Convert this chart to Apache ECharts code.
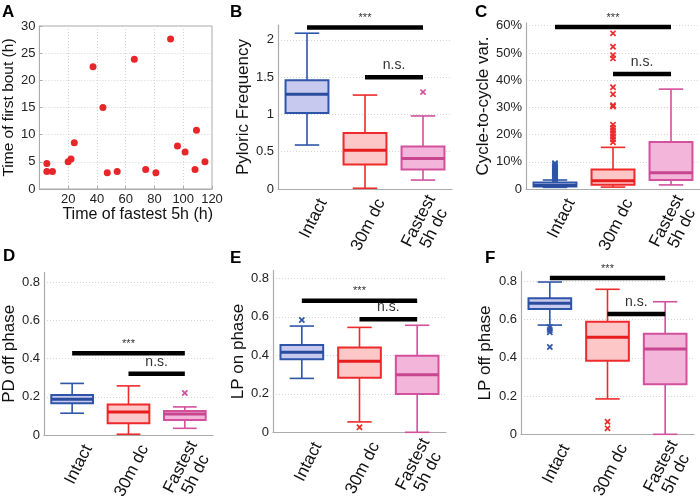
<!DOCTYPE html>
<html><head><meta charset="utf-8">
<script src="https://cdn.jsdelivr.net/npm/echarts@6/dist/echarts.min.js"></script>
<style>html,body{margin:0;padding:0;background:#fff}#c{width:700px;height:502px}</style>
</head><body><div id="c"></div>
<script>
// ---------- DATA ----------
const categories = ['Intact', '30m dc', 'Fastest\n5h dc'];

// Panel A: scatter
const fastestTimes   = [5.2, 5.2, 9.1, 20, 22, 24.3, 37.3, 44.2, 47.2, 54.1, 66, 73.9, 81, 91.2, 96, 101.3, 108.2, 109.2, 115.1];
const firstBoutTimes = [4.7, 3.2, 3.2, 5.0, 5.5, 8.5, 22.5, 15.0, 3.0, 3.2, 23.9, 3.6, 3.0, 27.6, 7.9, 6.8, 3.6, 10.8, 5.0];

// Box stats: [lower whisker, Q1, median, Q3, upper whisker] per category
const pyloricBoxes = [[0.59, 1.02, 1.27, 1.46, 2.09], [0.01, 0.33, 0.52, 0.75, 1.26], [0.12, 0.26, 0.41, 0.57, 0.98]];
const pyloricOutliers = [[2, 1.30]];
const pyloricSig = [[0, 2, 2.165], [1, 2, 1.50]];

const cycleBoxes = [[0.006, 0.0095, 0.013, 0.024, 0.033], [0.007, 0.016, 0.030, 0.072, 0.153], [0.015, 0.033, 0.060, 0.173, 0.367]];
const cycleOutliers = [
  [0, 0.036], [0, 0.039], [0, 0.042], [0, 0.045], [0, 0.048], [0, 0.052], [0, 0.056], [0, 0.060], [0, 0.064],
  [0, 0.068], [0, 0.072], [0, 0.076], [0, 0.080], [0, 0.084], [0, 0.088], [0, 0.092], [0, 0.095],
  [1, 0.172], [1, 0.183], [1, 0.193], [1, 0.203], [1, 0.214], [1, 0.224], [1, 0.236], [1, 0.303], [1, 0.308],
  [1, 0.348], [1, 0.374], [1, 0.480], [1, 0.492], [1, 0.523], [1, 0.572]
];
const cycleSig = [[0, 2, 0.595], [1, 2, 0.423]];

const pdOffBoxes = [[0.114, 0.166, 0.187, 0.21, 0.27], [0.004, 0.061, 0.12, 0.16, 0.257], [0.035, 0.079, 0.11, 0.126, 0.147]];
const pdOffOutliers = [[2, 0.22]];
const pdOffSig = [[0, 2, 0.428], [1, 2, 0.32]];

const lpOnBoxes = [[0.28, 0.379, 0.416, 0.453, 0.552], [0.054, 0.284, 0.369, 0.44, 0.545], [0.0, 0.199, 0.299, 0.398, 0.556]];
const lpOnOutliers = [[0, 0.583], [1, 0.026]];
const lpOnSig = [[0, 2, 0.684], [1, 2, 0.587]];

const lpOffBoxes = [[0.571, 0.655, 0.685, 0.711, 0.796], [0.185, 0.385, 0.507, 0.589, 0.758], [0.0, 0.261, 0.446, 0.526, 0.693]];
const lpOffOutliers = [[0, 0.56], [0, 0.545], [0, 0.533], [0, 0.456], [1, 0.066], [1, 0.031]];
const lpOffSig = [[0, 2, 0.817], [1, 2, 0.629]];

const sigLabels = ['***', 'n.s.'];

// ---------- STYLE ----------
const FONT = '"Liberation Sans", Arial, Helvetica, sans-serif';
const strokeColors = ['#2e55a8', '#ee2a2a', '#d2509c'];
const fillColors = ['#c8c9ee', '#fdc7c7', '#f3b6da'];
const medianColors = ['#2a4c9c', '#e61e1e', '#c8458f'];
const AXIS_GREY = '#ababab';
const LABEL_FS = 17, LABEL_ROT = 63, LABEL_DX = 16, LABEL_DY = 11, LABEL_LH = 17;

const measureCtx = document.createElement('canvas').getContext('2d');
measureCtx.font = LABEL_FS + 'px ' + FONT;

function boxRender(params, api) {
  const ci = api.value(0);
  const bandW = api.size([1, 0])[0];
  const bw = bandW * 0.74, cw = bw * 0.57;
  const p = k => api.coord([ci, api.value(k)]);
  const xc = p(1)[0];
  const yLo = p(1)[1], yQ1 = p(2)[1], yMed = p(3)[1], yQ3 = p(4)[1], yHi = p(5)[1];
  const s = strokeColors[ci], f = fillColors[ci], m = medianColors[ci];
  const ls = { stroke: s, lineWidth: 1.6 };
  return { type: 'group', children: [
    { type: 'line', shape: { x1: xc, y1: yHi, x2: xc, y2: yQ3 }, style: ls },
    { type: 'line', shape: { x1: xc, y1: yQ1, x2: xc, y2: yLo }, style: ls },
    { type: 'line', shape: { x1: xc - cw / 2, y1: yHi, x2: xc + cw / 2, y2: yHi }, style: ls },
    { type: 'line', shape: { x1: xc - cw / 2, y1: yLo, x2: xc + cw / 2, y2: yLo }, style: ls },
    { type: 'rect', shape: { x: xc - bw / 2, y: yQ3, width: bw, height: yQ1 - yQ3 }, style: { fill: f, stroke: s, lineWidth: 2 } },
    { type: 'line', shape: { x1: xc - bw / 2, y1: yMed, x2: xc + bw / 2, y2: yMed }, style: { stroke: m, lineWidth: 3 } }
  ]};
}
function crossRender(params, api) {
  const ci = api.value(0);
  const pt = api.coord([ci, api.value(1)]);
  const r = 2.6, st = { stroke: strokeColors[ci], lineWidth: 1.7 };
  return { type: 'group', children: [
    { type: 'line', shape: { x1: pt[0] - r, y1: pt[1] - r, x2: pt[0] + r, y2: pt[1] + r }, style: st },
    { type: 'line', shape: { x1: pt[0] - r, y1: pt[1] + r, x2: pt[0] + r, y2: pt[1] - r }, style: st }
  ]};
}
function sigRender(params, api) {
  const a = api.coord([api.value(0), api.value(2)]);
  const b = api.coord([api.value(1), api.value(2)]);
  const txt = sigLabels[params.dataIndex];
  const star = txt === '***';
  return { type: 'group', children: [
    { type: 'line', shape: { x1: a[0], y1: a[1], x2: b[0], y2: b[1] }, style: { stroke: '#000', lineWidth: 4.5 } },
    { type: 'text', style: { text: txt, x: (a[0] + b[0]) / 2, y: a[1] - (star ? 4 : 5), align: 'center', verticalAlign: 'bottom',
      fontSize: star ? 11 : 14, fontFamily: FONT, fill: '#333' } }
  ]};
}
// rotated category labels (MATLAB-style: block centred at anchor, lines centred)
function catLabelRender(params, api) {
  const i = api.value(0);
  const base = api.coord([i, 0]);
  const th = LABEL_ROT * Math.PI / 180;
  const ax = base[0] + LABEL_DX, ay = base[1] + LABEL_DY;
  const lines = categories[i].split('\n');
  const widths = lines.map(l => measureCtx.measureText(l).width);
  const wMax = Math.max.apply(null, widths);
  const children = lines.map((ln, k) => {
    const off = (k - (lines.length - 1) / 2) * LABEL_LH;
    const shift = -(wMax - widths[k]) / 2;
    return { type: 'text',
      x: ax + off * Math.sin(th) + shift * Math.cos(th),
      y: ay + off * Math.cos(th) - shift * Math.sin(th),
      rotation: th,
      style: { text: ln, align: 'right', verticalAlign: 'middle', fontSize: LABEL_FS, fontFamily: FONT, fill: '#111' } };
  });
  return { type: 'group', children: children };
}

const grids = [
  { left: 39, top: 26, width: 173, height: 163, show: true, borderColor: AXIS_GREY, borderWidth: 1 },
  { left: 278, top: 25, width: 174, height: 164 },
  { left: 526, top: 23, width: 174, height: 166 },
  { left: 40, top: 272.6, width: 173, height: 162.4 },
  { left: 273, top: 270.6, width: 173, height: 161.7 },
  { left: 521, top: 271.7, width: 173, height: 162.6 }
];

function catX(gi) {
  return {
    type: 'category', gridIndex: gi, data: categories, boundaryGap: true,
    axisLine: { lineStyle: { color: AXIS_GREY, width: 1.2 } },
    axisTick: { show: false },
    axisLabel: { show: false },
    splitLine: { show: false }
  };
}
function valY(gi, max, interval, name, nameGap, fmt) {
  return {
    type: 'value', gridIndex: gi, min: 0, max: max, interval: interval,
    name: name, nameLocation: 'middle', nameGap: nameGap,
    nameTextStyle: { fontSize: 17, color: '#111', fontFamily: FONT },
    axisLine: { show: true, lineStyle: { color: AXIS_GREY, width: 1.2 } },
    axisTick: { show: false },
    axisLabel: { fontSize: 13, color: '#222', fontFamily: FONT, margin: 4, showMaxLabel: false,
      formatter: fmt || (v => String(+v.toFixed(2))) },
    splitLine: { show: true, showMaxLine: false, lineStyle: { color: '#d4d4d4', type: [1, 2], width: 1 } }
  };
}

const boxSets = [
  [pyloricBoxes, pyloricOutliers, pyloricSig],
  [cycleBoxes, cycleOutliers, cycleSig],
  [pdOffBoxes, pdOffOutliers, pdOffSig],
  [lpOnBoxes, lpOnOutliers, lpOnSig],
  [lpOffBoxes, lpOffOutliers, lpOffSig]
];

const series = [{
  type: 'scatter', xAxisIndex: 0, yAxisIndex: 0, symbolSize: 7,
  itemStyle: { color: '#e8262a', opacity: 1 },
  data: fastestTimes.map((x, i) => [x, firstBoutTimes[i]])
}];
boxSets.forEach((set, k) => {
  const gi = k + 1;
  series.push({ type: 'custom', xAxisIndex: gi, yAxisIndex: gi, renderItem: boxRender,
    encode: { x: 0, y: [1, 2, 3, 4, 5] }, data: set[0].map((b, i) => [i].concat(b)), z: 2 });
  series.push({ type: 'custom', xAxisIndex: gi, yAxisIndex: gi, renderItem: crossRender,
    encode: { x: 0, y: 1 }, data: set[1], z: 3 });
  series.push({ type: 'custom', xAxisIndex: gi, yAxisIndex: gi, renderItem: sigRender,
    encode: { x: [0, 1], y: 2 }, data: set[2], z: 4 });
  series.push({ type: 'custom', xAxisIndex: gi, yAxisIndex: gi, renderItem: catLabelRender, clip: false,
    encode: { x: 0 }, data: categories.map((c, i) => [i]), z: 5, silent: true });
});

const pct = v => (v === 0 ? '0' : Math.round(v * 100) + '%');

const option = {
  animation: false,
  backgroundColor: '#fff',
  grid: grids,
  xAxis: [
    { type: 'value', gridIndex: 0, min: 0, max: 120, interval: 20,
      name: 'Time of fastest 5h (h)', nameLocation: 'middle', nameGap: 16,
      nameTextStyle: { fontSize: 16, color: '#111', fontFamily: FONT, padding: [0, 0, 0, 24] },
      axisLine: { lineStyle: { color: AXIS_GREY } },
      axisTick: { inside: true, length: 3, lineStyle: { color: AXIS_GREY } },
      axisLabel: { fontSize: 13, color: '#222', fontFamily: FONT, margin: 4, showMinLabel: false },
      splitLine: { show: true, lineStyle: { color: '#d4d4d4', type: [1, 2] } } },
    catX(1), catX(2), catX(3), catX(4), catX(5)
  ],
  yAxis: [
    { type: 'value', gridIndex: 0, min: 0, max: 30, interval: 5,
      name: 'Time of first bout (h)', nameLocation: 'middle', nameGap: 19,
      nameTextStyle: { fontSize: 15.5, color: '#111', fontFamily: FONT },
      axisLine: { lineStyle: { color: AXIS_GREY } },
      axisTick: { inside: true, length: 3, lineStyle: { color: AXIS_GREY } },
      axisLabel: { fontSize: 13, color: '#222', fontFamily: FONT, margin: 4 },
      splitLine: { show: true, lineStyle: { color: '#d4d4d4', type: [1, 2] } } },
    valY(1, 2.2, 0.5, 'Pyloric Frequency', 25),
    valY(2, 0.61, 0.1, 'Cycle-to-cycle var.', 32, pct),
    valY(3, 0.85, 0.2, 'PD off phase', 22),
    valY(4, 0.84, 0.2, 'LP on phase', 26),
    valY(5, 0.85, 0.2, 'LP off phase', 27)
  ],
  graphic: [
    ['A', 2, 3.5], ['B', 230, 3.5], ['C', 475, 3.5], ['D', 3, 248], ['E', 230, 249.5], ['F', 485, 249.5]
  ].map(([t, x, y]) => ({ type: 'text', left: x, top: y,
    style: { text: t, fontSize: 17, fontWeight: 'bold', fontFamily: FONT, fill: '#000' } })),
  series: series
};

const chart = echarts.init(document.getElementById('c'), null, { renderer: 'canvas' });
chart.setOption(option);
</script>
</body></html>
